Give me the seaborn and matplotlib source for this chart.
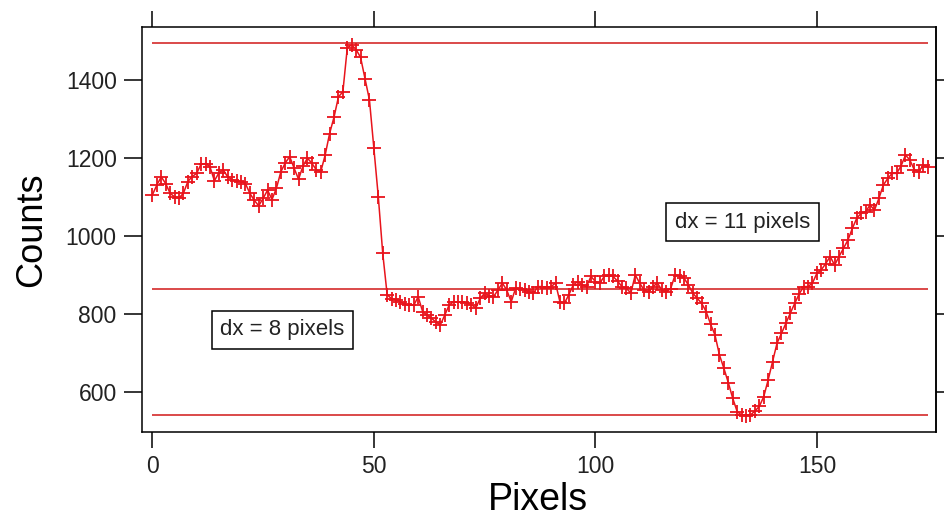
import matplotlib
matplotlib.use('Agg')
import matplotlib.pyplot as plt
import numpy as np
import pandas as pd
import seaborn as sns

# counts per pixel (x = 0..175)
pixels = list(range(176))
counts = [
    1106, 1131, 1152, 1135, 1110, 1101, 1098, 1110, 1140, 1153,
    1161, 1185, 1186, 1178, 1142, 1162, 1170, 1152, 1145, 1141,
    1140, 1135, 1110, 1092, 1078, 1097, 1118, 1094, 1123, 1165,
    1188, 1204, 1174, 1146, 1180, 1200, 1187, 1170, 1165, 1208,
    1263, 1305, 1357, 1370, 1483, 1490, 1478, 1458, 1404, 1349,
    1225, 1101, 956, 850, 840, 837, 832, 826, 824, 823,
    845, 807, 798, 790, 780, 773, 798, 824, 832, 832,
    832, 828, 825, 816, 841, 854, 848, 845, 862, 880,
    862, 832, 867, 865, 862, 858, 854, 871, 871, 868,
    871, 880, 832, 828, 850, 875, 884, 875, 871, 897,
    884, 880, 897, 901, 897, 885, 871, 867, 854, 901,
    880, 862, 857, 871, 880, 862, 857, 866, 901, 898,
    893, 875, 854, 841, 828, 807, 775, 747, 696, 662,
    625, 585, 551, 542, 540, 542, 552, 564, 589, 632,
    679, 726, 751, 777, 803, 828, 852, 871, 871, 880,
    905, 914, 930, 948, 926, 948, 969, 990, 1020, 1046,
    1059, 1063, 1080, 1067, 1097, 1131, 1148, 1161, 1161, 1180,
    1208, 1195, 1170, 1165, 1182, 1178,
]
levels = [1494, 864, 542]
notes = ['dx = 8 pixels', 'dx = 11 pixels']
note_pos = [(29.3, 760), (133.2, 1036)]

df = pd.DataFrame({'Pixels': pixels, 'Counts': counts})

sns.set_theme(style='white')
plt.rcParams['font.family'] = ['Liberation Sans', 'DejaVu Sans']

fig = plt.figure(figsize=(9.45, 5.19), dpi=100)
ax = fig.add_axes([0.150, 0.168, 0.841, 0.780])

red = '#e8141c'
ax.hlines(levels, 0, 175, color='#d42a2a', linewidth=1.2, zorder=1)
sns.lineplot(data=df, x='Pixels', y='Counts', ax=ax, color=red,
             linewidth=1.1, marker='+', markersize=10,
             markeredgewidth=1.3, markeredgecolor=red,
             estimator=None, sort=False, zorder=2)

for txt, (tx, ty) in zip(notes, note_pos):
    ax.text(tx, ty, txt, ha='center', va='center', fontsize=16,
            color='#222222',
            bbox=dict(boxstyle='square,pad=0.38', facecolor='white',
                      edgecolor='black', linewidth=1.1))

ax.set_xlim(-2.4, 177)
ax.set_ylim(499, 1536)
ax.set_xticks([0, 50, 100, 150])
ax.set_yticks([600, 800, 1000, 1200, 1400])

for s in ax.spines.values():
    s.set_color('black')
    s.set_linewidth(1.1)

ax.tick_params(axis='x', which='major', direction='out', length=11.5,
               width=1.1, color='black', top=True, labeltop=False,
               bottom=True, labelsize=16.5, pad=5, labelcolor='#222222')
ax.tick_params(axis='y', which='major', direction='out', length=13,
               width=1.1, color='black', left=True, right=False,
               labelsize=16.5, pad=5, labelcolor='#222222')

sec = ax.secondary_yaxis('right')
sec.set_yticks([600, 800, 1000, 1200, 1400])
sec.tick_params(direction='out', length=6, width=1.1, color='black',
                labelright=False)
sec.spines['right'].set_linewidth(1.1)
sec.spines['right'].set_color('black')

ax.set_xlabel('Pixels', fontsize=27, color='black')
ax.set_ylabel('Counts', fontsize=26, color='black')
ax.xaxis.set_label_coords(0.499, -0.168)
ax.xaxis.label.set_va('center')
ax.yaxis.set_label_coords(-0.138, 0.5)
ax.yaxis.label.set_va('center')

ax.grid(False)
fig.savefig('out.png', dpi=100)
